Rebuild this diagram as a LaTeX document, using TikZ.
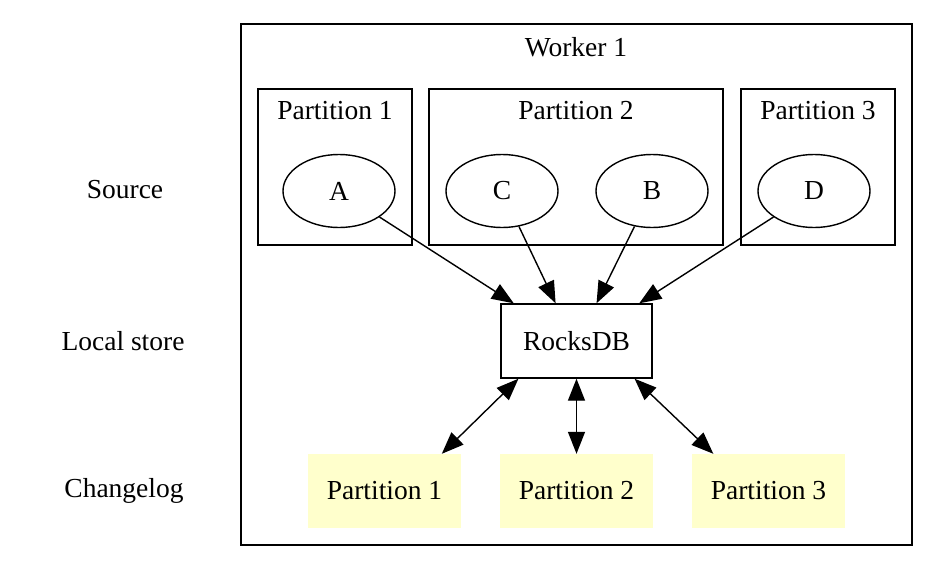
\documentclass[tikz,border=0pt]{standalone}
\usepackage{fontspec}
\setmainfont{Liberation Serif}
\newfontfamily\tnr{Liberation Serif}
\usetikzlibrary{arrows.meta,shapes.geometric}
\begin{document}
\begin{tikzpicture}[x=1pt,y=-1pt,
  every node/.style={font=\tnr\fontsize{27.5}{30}\selectfont, inner sep=0pt},
  cluster/.style={draw, line width=1.4pt},
  ell/.style={draw, line width=1.4pt, ellipse, minimum width=112pt, minimum height=73pt},
  store/.style={draw, line width=1.4pt, rectangle, minimum width=151pt, minimum height=74pt},
  clog/.style={fill={rgb,255:red,255;green,255;blue,204}, rectangle, minimum width=153pt, minimum height=74pt},
  edge/.style={line width=1.4pt, -{Triangle[length=22pt,width=17pt]}},
  bedge/.style={line width=1.4pt, {Triangle[length=22pt,width=17pt]}-{Triangle[length=22pt,width=17pt]}}
]
\useasboundingbox (0,0) rectangle (938,571);
\fill[white] (0,0) rectangle (938,571);
% clusters
\draw[cluster] (241,24) rectangle (912,545);
\node (w) at (576,47) {Worker 1};
\draw[cluster] (258,89) rectangle (412,245);
\node (p1) at (335,111) {Partition 1};
\draw[cluster] (429,89) rectangle (723,245);
\node (p2) at (576,111) {Partition 2};
\draw[cluster] (741,89) rectangle (895,245);
\node (p3) at (818,111) {Partition 3};
% left labels
\node (src) at (125,190) {Source};
\node (ls) at (123,341) {Local store};
\node (cl) at (124,491) {Changelog};
% nodes
\node[ell] (A) at (339,191) {A};
\node[ell] (C) at (502,191) {C};
\node[ell] (B) at (652,191) {B};
\node[ell] (D) at (814,191) {D};
\node[store] (R) at (576.5,341) {RocksDB};
\node[clog] (c1) at (384.5,491) {Partition 1};
\node[clog] (c2) at (576.5,491) {Partition 2};
\node[clog] (c3) at (768.5,491) {Partition 3};
% edges
\draw[edge] (A) -- (R.149);
\draw[edge] (C) -- (R.119);
\draw[edge] (B) -- (R.62);
\draw[edge] (D) -- (R.31);
\draw[bedge] (R.213) -- (c1.33.7);
\draw[bedge] (R.south) -- (c2.north);
\draw[bedge] (R.-33) -- (c3.146);
\end{tikzpicture}
\end{document}
